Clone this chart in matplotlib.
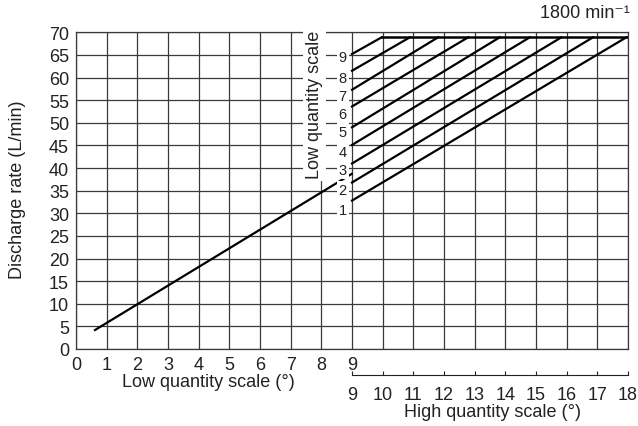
import matplotlib
matplotlib.use("Agg")
import matplotlib.pyplot as plt

plt.rcParams['font.family'] = ['Liberation Sans', 'DejaVu Sans']
plt.rcParams['font.size'] = 13

# low quantity line (degrees, L/min)
low_x = [0.62, 8.99]
low_y = [4.2, 38.7]

# high quantity lines, one per low-scale setting 1..9
settings = [1, 2, 3, 4, 5, 6, 7, 8, 9]
high_start_y = [32.8, 36.8, 41.0, 45.1, 49.0, 53.6, 57.3, 61.5, 65.2]
high_end_x = [17.95, 16.86, 15.83, 14.8, 13.82, 12.79, 11.81, 10.89, 9.97]
cap_y = 68.9
setting_label_y = [30.8, 35.2, 39.6, 43.5, 48.0, 51.9, 55.9, 59.9, 64.5]

low_ticks = list(range(0, 10))
high_ticks = list(range(9, 19))
y_ticks = list(range(0, 71, 5))

W, H = 638, 427
fig = plt.figure(figsize=(W / 100, H / 100), dpi=100)
ax = fig.add_axes([76 / W, 1 - 350 / H, 552 / W, 316.7 / H])
ax.set_xlim(0, 18)
ax.set_ylim(0, 70)

grid_col = '#3a3a3a'
ax.set_xticks(range(0, 19))
ax.set_xticklabels([str(t) for t in low_ticks] + [''] * 9)
ax.set_yticks(y_ticks)
ax.tick_params(length=0, labelcolor='#222222')
ax.tick_params(axis='x', pad=5)
ax.tick_params(axis='y', pad=5)
ax.grid(True, color=grid_col, lw=0.9)
ax.set_axisbelow(True)
for sp in ax.spines.values():
    sp.set_color(grid_col)
    sp.set_linewidth(0.9)

ax.plot(low_x, low_y, color='black', lw=1.6, zorder=3)
for sy, ex in zip(high_start_y, high_end_x):
    ax.plot([9, ex], [sy, cap_y], color='black', lw=1.6, zorder=3)
ax.plot([min(high_end_x), 18], [cap_y, cap_y], color='black', lw=1.8, zorder=3)

box = dict(facecolor='white', edgecolor='none', pad=1.5)
for s, ly in zip(settings, setting_label_y):
    ax.text(8.83, ly, str(s), ha='right', va='center', fontsize=10.5,
            color='#222222', bbox=box, zorder=4)
ax.text(7.78, 54.2, 'Low quantity scale', rotation=90, ha='center',
        va='center', color='#222222', bbox=dict(facecolor='white',
        edgecolor='none', pad=2), zorder=4, clip_on=False)

# high quantity scale axis
ax2 = fig.add_axes([352 / W, 1 - 375.7 / H, 276 / W, 0.0001])
ax2.set_xlim(9, 18)
ax2.set_xticks(high_ticks)
ax2.set_yticks([])
for name in ['top', 'left', 'right']:
    ax2.spines[name].set_visible(False)
ax2.spines['bottom'].set_color('#222222')
ax2.tick_params(axis='x', direction='in', length=3, pad=8, color='#222222',
                labelcolor='#222222')
ax2.patch.set_visible(False)

fig.text(208 / W, 1 - 383 / H, 'Low quantity scale (°)', ha='center',
         va='center', color='#222222')
fig.text(492 / W, 1 - 413 / H, 'High quantity scale (°)', ha='center',
         va='center', color='#222222')
fig.text(18 / W, 1 - 190 / H, 'Discharge rate (L/min)', rotation=90,
         ha='center', va='center', color='#222222')
fig.text(630 / W, 1 - 14 / H, '1800 min⁻¹', ha='right', va='center',
         color='#222222')

fig.savefig('out.png', dpi=100)
